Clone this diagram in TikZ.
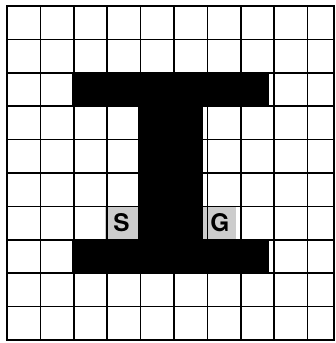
\documentclass[tikz,border=0pt]{standalone}
\usepackage{fontspec}
\setsansfont{TeX Gyre Heros}
\usepackage{tikz}
\usetikzlibrary{positioning}
\begin{document}
\begin{tikzpicture}[x=0.98cm, y=1cm, wall/.style={fill=black}, cellmark/.style={fill=black!20, minimum width=0.98cm, minimum height=1cm, inner sep=0pt, font=\sffamily\bfseries\huge},
  gridline/.style={line width=1.5pt, black}]
\useasboundingbox (-0.214,-0.09) rectangle (10.03,10.18);
\fill[wall] (2,7) rectangle (8,8);
\fill[wall] (4,3) rectangle (6,7);
\fill[wall] (2,2) rectangle (8,3);
\node[cellmark] (start) at (3.5,3.5) {S};
\node[cellmark] (goal) at (6.5,3.5) {G};
\draw[gridline] (0,0) grid (10,10);
\draw[gridline] (0,0) rectangle (10,10);
\end{tikzpicture}
\end{document}
